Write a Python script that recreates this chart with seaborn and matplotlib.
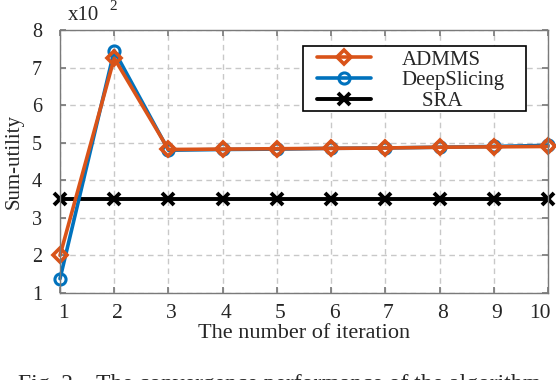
import numpy as np
import pandas as pd
import matplotlib
matplotlib.use("Agg")
import matplotlib.pyplot as plt
import matplotlib.transforms as mtrans
from matplotlib.patches import Rectangle
import seaborn as sns

# ------------------------------------------------------------
# data (sum-utility, read off the reference, real units)
# ------------------------------------------------------------
iterations = [1, 2, 3, 4, 5, 6, 7, 8, 9, 10]
admms = [200, 725, 482, 483, 484, 485, 486, 488, 489, 490]
deepslicing = [138, 745, 480, 482, 483, 485, 486, 488, 490, 493]
sra = [350, 350, 350, 350, 350, 350, 350, 350, 350, 350]
scale = 100  # axis shown as x10^2

df = pd.DataFrame({
    "iter": iterations,
    "ADMMS": np.array(admms) / scale,
    "DeepSlicing": np.array(deepslicing) / scale,
    "SRA": np.array(sra) / scale,
})

sns.set_theme(style="ticks")
plt.rcParams["font.family"] = ["Liberation Serif", "DejaVu Serif"]

c_orange = "#D95319"
c_blue = "#0072BD"
txt = "#262626"
W, H = 556, 380

fig = plt.figure(figsize=(5.56, 3.80), dpi=100)
ax = fig.add_axes([60 / W, 1 - 293 / H, 488 / W, 263 / H])

# SRA first so the other two lines sit on top of it
sns.lineplot(data=df, x="iter", y="SRA", ax=ax, color="black", lw=2.8, ls="-",
             marker="x", markersize=8, markeredgewidth=2.8,
             markeredgecolor="black", clip_on=False, label="SRA")
sns.lineplot(data=df, x="iter", y="DeepSlicing", ax=ax, color=c_blue, lw=2.6, ls="-",
             marker="o", markersize=8, markerfacecolor="none",
             markeredgecolor=c_blue, markeredgewidth=2.2, clip_on=False,
             label="DeepSlicing")
sns.lineplot(data=df, x="iter", y="ADMMS", ax=ax, color=c_orange, lw=2.6, ls="-",
             marker="D", markersize=7.5, markerfacecolor="none",
             markeredgecolor=c_orange, markeredgewidth=2.6, clip_on=False,
             label="ADMMS")

ax.set_xlim(1, 10)
ax.set_ylim(1, 8)
ax.set_xticks(iterations)
ax.set_yticks(range(1, 9))
ax.grid(True, ls=(0, (4, 3)), color="#c8c8c8", lw=1)
for s in ax.spines.values():
    s.set_color("#7a7a7a")
    s.set_linewidth(1)
ax.tick_params(direction="in", length=4, color="#7a7a7a",
               labelcolor=txt, top=True, right=True)
ax.tick_params(axis="x", pad=8, labelsize=15.5)
ax.tick_params(axis="y", pad=13, labelsize=14.5)
ax.set_xlabel("The number of iteration", fontsize=16, color=txt, labelpad=1)
ax.set_ylabel("Sum-utility", fontsize=15, color=txt, labelpad=6)

# x tick labels sit a little right of their ticks, the last one pulled in
xlabels = ax.get_xticklabels()
for i, t in enumerate(xlabels):
    dx = 3 if i < len(xlabels) - 1 else -8
    t.set_transform(t.get_transform() + mtrans.ScaledTranslation(dx / 100, 0, fig.dpi_scale_trans))

# scale factor shown above the axes
fig.text(68 / W, 1 - 20 / H, "x10", fontsize=15, color=txt, va="baseline")
fig.text(109 / W, 1 - 10 / H, "2", fontsize=11, color=txt, va="baseline")

# legend: own frame, entries placed inside it
ax.add_patch(Rectangle((303 / W, 1 - 111 / H), 223 / W, 65 / H,
                       transform=fig.transFigure, facecolor="white",
                       edgecolor="black", lw=1.2, zorder=4.5, clip_on=False))
h, l = ax.get_legend_handles_labels()
order = [l.index("ADMMS"), l.index("DeepSlicing"), l.index("SRA")]
labels = ["ADMMS", "DeepSlicing", "    SRA"]
leg = ax.legend([h[i] for i in order], labels, loc="upper left",
                bbox_to_anchor=(317 / W, 1 - 50 / H),
                bbox_transform=fig.transFigure, fontsize=15, frameon=False,
                handlelength=2.6, handletextpad=1.45, borderpad=0,
                labelspacing=0.05, borderaxespad=0)
leg.set_zorder(6)
for t in leg.get_texts():
    t.set_color(txt)

# caption, cut at the bottom edge as in the reference
fig.text(18 / W, 1 - 374 / H, "Fig. 2.   The convergence performance of the algorithm",
         fontsize=17, color=txt, va="top")

fig.savefig("out.png", dpi=100)
